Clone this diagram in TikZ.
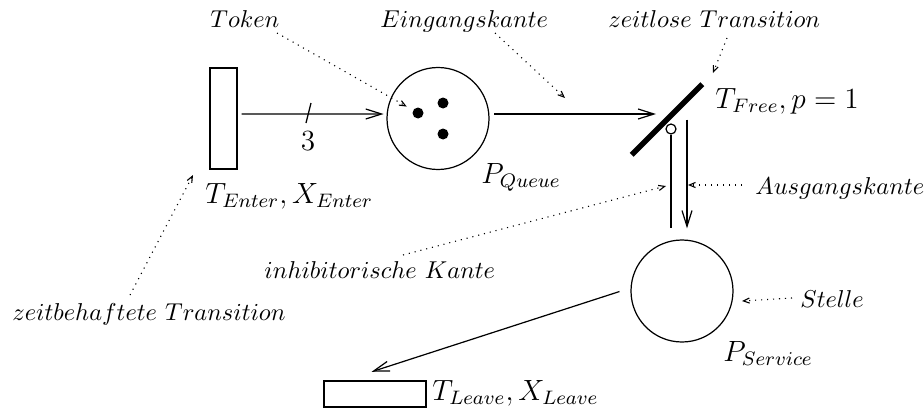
\documentclass[tikz,border=0pt]{standalone}
\usetikzlibrary{arrows.meta}
\newlength\pxu
\setlength\pxu{0.41pt}
\begin{document}
\begin{tikzpicture}[x=1\pxu, y=-1\pxu,
  trans/.style={draw, rectangle, inner sep=0pt, line width=0.5pt},
  place/.style={draw, circle, inner sep=0pt, minimum size=102\pxu, line width=0.5pt},
  tok/.style={circle, fill, inner sep=0pt, minimum size=11\pxu},
  arc/.style={line width=0.5pt, -{Straight Barb[length=6.5pt, width=4.1pt]}},
  note/.style={dotted, line width=0.45pt, -{Straight Barb[length=2.5pt, width=2.1pt]}},
  lbl/.style={anchor=base west, inner sep=0pt},
  big/.style={font=\fontsize{12}{14}\selectfont}]
\useasboundingbox (0,0) rectangle (924,412);

% places and transitions
\node[trans, minimum width=27\pxu, minimum height=101\pxu] (Enter) at (223.5,118.5) {};
\node[place] (Queue) at (438,118.5) {};
\node[tok] (k1) at (418,113) {};
\node[tok] (k2) at (443,103) {};
\node[tok] (k3) at (443,134) {};
\node[fill, rectangle, rotate=45, minimum width=100\pxu, minimum height=5.5\pxu, inner sep=0pt] (Free) at (667,119.5) {};
\node[draw, circle, fill=white, minimum size=10\pxu, inner sep=0pt, line width=0.5pt] (Inh) at (671,129) {};
\node[place] (Service) at (682,291) {};
\node[trans, minimum width=102\pxu, minimum height=26\pxu] (Leave) at (375,394) {};

% arcs
\draw[arc, shorten <=4\pxu, shorten >=3\pxu] ([yshift=4.5\pxu]Enter.east) -- (Queue.175);
\draw[line width=0.5pt] (306,123) -- (311,103);
\node[big, anchor=base, inner sep=0pt] (w) at (308,150) {$3$};
\draw[arc, shorten <=5\pxu, shorten >=11\pxu] (Queue.5) -- (Queue.5 -| Free.center);
\draw[line width=0.5pt, shorten >=11\pxu] (Inh.south) -- (Inh.south |- Service.north);
\draw[arc, shorten >=11\pxu] ([xshift=20\pxu]Free.center) -- ([xshift=20\pxu]Free.center |- Service.north);
\draw[arc, shorten <=11.5\pxu, shorten >=28\pxu] ([yshift=3\pxu]Service.west) -- ([xshift=-30\pxu]Leave.north);

% labels
\node[lbl, big] (lEnter) at (205,203) {$T_{Enter}, X_{Enter}$};
\node[lbl, big] (lQueue) at (481,183) {$P_{Queue}$};
\node[lbl, big] (lFree) at (715,108) {$T_{Free}, p=1$};
\node[lbl, big] (lService) at (723,361) {$P_{Service}$};
\node[lbl, big] (lLeave) at (432,400) {$T_{Leave}, X_{Leave}$};

% annotations
\node[lbl] (nTok) at (210,27) {$Token$};
\node[lbl] (nEin) at (380,27) {$Eingangskante$};
\node[lbl] (nZeitlos) at (608,27) {$zeitlose\ Transition$};
\node[lbl] (nAus) at (755,194) {$Ausgangskante$};
\node[lbl] (nStelle) at (800,307) {$Stelle$};
\node[lbl] (nInh) at (264,278) {$inhibitorische\ Kante$};
\node[lbl] (nZeitb) at (12,320) {$zeitbehaftete\ Transition$};

\coordinate (cTok) at (277,33);
\coordinate (cEin0) at (495,33);
\coordinate (cEin1) at (565,98);
\coordinate (cZl0) at (727,38);
\coordinate (cZl1) at (713,73);
\coordinate (cAus0) at (742,185);
\coordinate (cAus1) at (688,185);
\coordinate (cInh0) at (403,255);
\coordinate (cInh1) at (666,186);
\coordinate (cSt0) at (792,298);
\coordinate (cSt1) at (742,301);
\coordinate (cZb0) at (130,295);
\coordinate (cZb1) at (193,175);

\draw[note, shorten >=7\pxu] (cTok) -- (k1);
\draw[note] (cEin0) -- (cEin1);
\draw[note] (cZl0) -- (cZl1);
\draw[note] (cAus0) -- (cAus1);
\draw[note] (cInh0) -- (cInh1);
\draw[note] (cSt0) -- (cSt1);
\draw[note] (cZb0) -- (cZb1);
\end{tikzpicture}
\end{document}
